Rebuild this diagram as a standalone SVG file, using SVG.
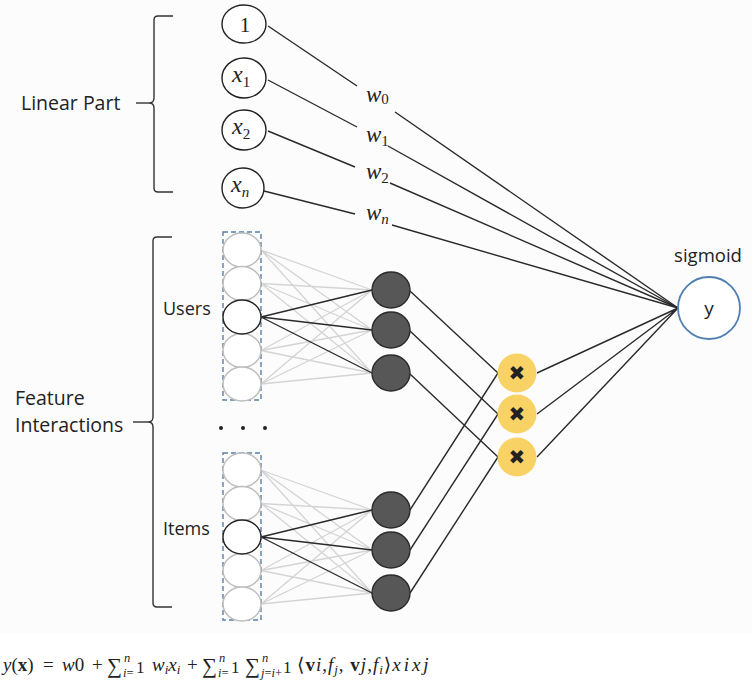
<svg xmlns="http://www.w3.org/2000/svg" width="756" height="688" viewBox="0 0 756 688">
<defs>
<style>
.lbl{font-family:"Open Sans","Liberation Sans",sans-serif;fill:#222;}
.math{font-family:"Liberation Serif","DejaVu Serif",serif;fill:#222;}
.it{font-style:italic;}
.in{fill:#fff;stroke:#222;stroke-width:1.4;}
.gin{fill:#fff;stroke:#bdbdbd;stroke-width:1.5;}
.hid{fill:#575757;stroke:#2a2a2a;stroke-width:1.4;}
.yel{fill:#f8d264;stroke:none;}
.box{fill:none;stroke:#5a7fa8;stroke-width:1.4;stroke-dasharray:5 3;}
.c{fill:none;stroke:#2a2a2a;stroke-width:1.4;}
.g{fill:none;stroke:#d4d4d4;stroke-width:1.3;}
.br{fill:none;stroke:#333;stroke-width:1.4;}
.fm{font-family:"Liberation Serif","DejaVu Serif",serif;fill:#222;font-size:19px;}
.mul{font-family:"DejaVu Sans",sans-serif;font-size:20px;fill:#222;}
</style>
</defs>
<rect x="0" y="0" width="752" height="633" fill="#fcfcfc"/>

<!-- brackets -->
<g id="bracket-linear">
<path class="br" d="M173,16 H158 Q154,16 154,20 V98 Q154,103 149,103 Q154,103 154,108 V188 Q154,192 158,192 H173"/>
<line class="br" x1="136" y1="103" x2="149" y2="103"/>
<text class="lbl" x="21" y="110" font-size="19.5">Linear Part</text>
</g>
<g id="bracket-feature">
<path class="br" d="M172,237 H157 Q153,237 153,241 V417 Q153,422 148,422 Q153,422 153,427 V603 Q153,607 157,607 H172"/>
<line class="br" x1="133" y1="422" x2="148" y2="422"/>
<text class="lbl" x="15" y="405" font-size="19.5">Feature</text>
<text class="lbl" x="15" y="432" font-size="19.5">Interactions</text>
</g>

<!-- connectors -->
<g id="connectors">
<g id="gray-users">
<path class="g" d="M261,250 L372,290 M261,250 L372,330 M261,250 L372,373
M261,283.5 L372,290 M261,283.5 L372,330 M261,283.5 L372,373
M261,350.5 L372,290 M261,350.5 L372,330 M261,350.5 L372,373
M261,384 L372,290 M261,384 L372,330 M261,384 L372,373"/>
</g>
<g id="gray-items">
<path class="g" d="M261,470 L372,510 M261,470 L372,550 M261,470 L372,593
M261,503.5 L372,510 M261,503.5 L372,550 M261,503.5 L372,593
M261,570.5 L372,510 M261,570.5 L372,550 M261,570.5 L372,593
M261,604 L372,510 M261,604 L372,550 M261,604 L372,593"/>
</g>
<path class="c" d="M261,317 L372,290 M261,317 L372,330 M261,317 L372,373"/>
<path class="c" d="M261,537 L372,510 M261,537 L372,550 M261,537 L372,593"/>
<path class="c" d="M410,291 L498,373 M410,331 L498,414 M410,374 L498,457"/>
<path class="c" d="M410,510 L498,373 M410,550 L498,414 M410,593 L498,457"/>
<path class="c" d="M537,373 L678,308 M537,414 L678,308 M537,457 L678,308"/>
<path class="c" d="M268,26 L357,86 M395,112 L678,308"/>
<path class="c" d="M268,80 L357,127 M388,146 L678,308"/>
<path class="c" d="M268,131 L355,167 M390,183 L678,308"/>
<path class="c" d="M264,191 L355,214 M392,225 L678,308"/>
</g>

<!-- weight labels -->
<g id="weights" class="math">
<text x="366" y="102" font-size="23" class="it">w<tspan font-size="15" dy="2" font-style="normal">0</tspan></text>
<text x="366" y="142" font-size="23" class="it">w<tspan font-size="15" dy="4" font-style="normal">1</tspan></text>
<text x="366" y="179" font-size="23" class="it">w<tspan font-size="15" dy="4" font-style="normal">2</tspan></text>
<text x="366" y="220" font-size="23" class="it">w<tspan font-size="15" dy="4">n</tspan></text>
</g>

<!-- linear inputs -->
<g id="node-1"><ellipse class="in" cx="244" cy="24" rx="22" ry="19"/><text class="math" x="245" y="32" font-size="21" text-anchor="middle">1</text></g>
<g id="node-x1"><ellipse class="in" cx="244" cy="78" rx="22" ry="20"/><text class="math it" x="232" y="82" font-size="24">x<tspan font-size="15" dy="5" font-style="normal">1</tspan></text></g>
<g id="node-x2"><ellipse class="in" cx="244" cy="130" rx="22" ry="20"/><text class="math it" x="232" y="134" font-size="24">x<tspan font-size="15" dy="5" font-style="normal">2</tspan></text></g>
<g id="node-xn"><ellipse class="in" cx="243" cy="188" rx="21" ry="20"/><text class="math it" x="231" y="192" font-size="24">x<tspan font-size="15" dy="5">n</tspan></text></g>

<!-- users field -->
<g id="users">
<text class="lbl" x="163" y="315" font-size="18">Users</text>
<rect class="box" x="223" y="232" width="38" height="168"/>
<ellipse class="gin" cx="242" cy="250" rx="19" ry="17"/>
<ellipse class="gin" cx="242" cy="283.5" rx="19" ry="17"/>
<ellipse class="gin" cx="242" cy="350.5" rx="19" ry="17"/>
<ellipse class="gin" cx="242" cy="384" rx="19" ry="17"/>
<ellipse class="in" cx="242" cy="317" rx="19" ry="17"/>
</g>
<g id="dots" fill="#222"><circle cx="221" cy="428" r="2"/><circle cx="243" cy="428" r="2"/><circle cx="265" cy="428" r="2"/></g>
<g id="items">
<text class="lbl" x="163" y="535" font-size="18">Items</text>
<rect class="box" x="223" y="453" width="38" height="167"/>
<ellipse class="gin" cx="242" cy="470" rx="19" ry="17"/>
<ellipse class="gin" cx="242" cy="503.5" rx="19" ry="17"/>
<ellipse class="gin" cx="242" cy="570.5" rx="19" ry="17"/>
<ellipse class="gin" cx="242" cy="604" rx="19" ry="17"/>
<ellipse class="in" cx="242" cy="537" rx="19" ry="17"/>
</g>

<!-- hidden embeddings -->
<g id="emb-u1"><ellipse class="hid" cx="391" cy="290" rx="19" ry="18"/></g>
<g id="emb-u2"><ellipse class="hid" cx="391" cy="330" rx="19" ry="18"/></g>
<g id="emb-u3"><ellipse class="hid" cx="391" cy="373" rx="19" ry="18"/></g>
<g id="emb-i1"><ellipse class="hid" cx="391" cy="510" rx="19" ry="18"/></g>
<g id="emb-i2"><ellipse class="hid" cx="391" cy="550" rx="19" ry="18"/></g>
<g id="emb-i3"><ellipse class="hid" cx="391" cy="593" rx="19" ry="18"/></g>

<!-- products -->
<g id="prod-1"><circle class="yel" cx="517" cy="373" r="19.5"/><text class="mul" x="517" y="380" text-anchor="middle">✖</text></g>
<g id="prod-2"><circle class="yel" cx="517" cy="414" r="19.5"/><text class="mul" x="517" y="421" text-anchor="middle">✖</text></g>
<g id="prod-3"><circle class="yel" cx="517" cy="457" r="19.5"/><text class="mul" x="517" y="464" text-anchor="middle">✖</text></g>

<!-- output -->
<g id="output">
<text class="lbl" x="708" y="262" font-size="18.5" text-anchor="middle">sigmoid</text>
<ellipse cx="709" cy="308" rx="31" ry="31" fill="#fff" stroke="#4f7fb3" stroke-width="1.8"/>
<text class="lbl" x="709" y="315" font-size="19" text-anchor="middle">y</text>
</g>

<!-- formula -->
<g id="formula" class="fm">
<text x="3" y="671"><tspan class="it">y</tspan>(<tspan font-weight="bold">x</tspan>)</text>
<text x="43" y="671">=</text>
<text x="62" y="671"><tspan class="it">w</tspan>0</text>
<text x="92" y="671">+</text>
<text x="107" y="673" font-size="21">∑</text>
<text x="124" y="662" font-size="12.5" class="it">n</text>
<text x="123" y="677" font-size="12.5"><tspan class="it">i</tspan>=</text>
<text x="136" y="673" font-size="17">1</text>
<text x="152" y="671" class="it">w<tspan font-size="13" dy="3">i</tspan><tspan dy="-3">x</tspan><tspan font-size="13" dy="3">i</tspan></text>
<text x="187" y="671">+</text>
<text x="202" y="673" font-size="21">∑</text>
<text x="219" y="662" font-size="12.5" class="it">n</text>
<text x="218" y="677" font-size="12.5"><tspan class="it">i</tspan>=</text>
<text x="231" y="673" font-size="17">1</text>
<text x="245" y="673" font-size="21">∑</text>
<text x="262" y="662" font-size="12.5" class="it">n</text>
<text x="261" y="677" font-size="12.5"><tspan class="it">j</tspan>=<tspan class="it">i</tspan>+</text>
<text x="283" y="673" font-size="17">1</text>
<text x="297" y="671" letter-spacing="1">⟨<tspan font-weight="bold">v</tspan><tspan class="it">i</tspan>,<tspan class="it">f</tspan><tspan class="it" font-size="13" dy="3">j</tspan><tspan dy="-3">, </tspan><tspan font-weight="bold">v</tspan><tspan class="it">j</tspan>,<tspan class="it">f</tspan><tspan class="it" font-size="13" dy="3">i</tspan><tspan dy="-3">⟩</tspan><tspan class="it" letter-spacing="3">xixj</tspan></text>
</g>
</svg>
